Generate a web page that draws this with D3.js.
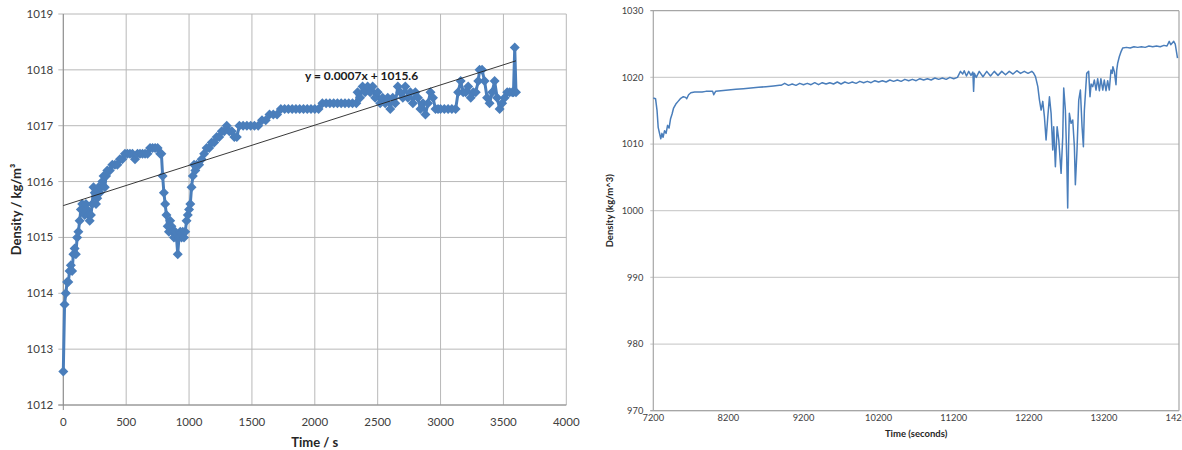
<!DOCTYPE html>
<html>
<head>
<meta charset="utf-8">
<script src="https://cdn.jsdelivr.net/npm/d3@7"></script>
<style>
  body { margin: 0; background: #fff; }
  svg { display: block; font-family: Lato, "Open Sans", sans-serif; }
</style>
</head>
<body>
<script>
// ---- left chart data (time s, density kg/m3) ----
var leftTime = [0,10,20,30,40,50,60,70,80,90,100,110,120,130,140,150,160,170,180,190,200,210,220,230,240,250,260,270,280,290,300,310,320,330,340,350,370,390,410,430,450,470,490,510,530,550,570,590,610,630,650,670,690,710,730,750,770,780,790,800,810,820,830,840,850,860,870,880,890,900,910,920,930,940,950,960,970,980,990,1000,1010,1020,1030,1040,1050,1060,1080,1100,1120,1140,1160,1180,1200,1220,1240,1260,1280,1300,1320,1340,1360,1380,
  1400,1430,1460,1490,1520,1550,1580,1610,1640,1670,1700,1730,1760,1790,1820,1850,1880,1910,1940,1970,2000,2030,2060,2090,2120,2150,2180,2210,2240,2270,2300,2330,
  2340,2360,2380,2400,2420,2440,2460,2480,2500,2520,2540,2560,2580,2600,2620,2640,2660,2680,2700,2720,2740,2760,2780,2800,2820,2840,2860,2880,2900,2920,2940,2960,2980,3000,3030,3060,3090,3120,3140,3160,3180,3200,3220,3240,3260,3280,3300,3310,3330,3350,3370,3390,3410,3430,3450,3470,3490,3510,3530,3550,3570,3580,3590,3600];
var leftDensity = [1012.6,1013.8,1014.0,1014.2,1014.2,1014.4,1014.5,1014.4,1014.7,1014.8,1014.7,1015.0,1015.1,1015.3,1015.5,1015.6,1015.5,1015.4,1015.6,1015.5,1015.4,1015.3,1015.4,1015.6,1015.9,1015.8,1015.6,1015.7,1015.9,1015.8,1015.9,1016.0,1016.1,1015.9,1016.1,1016.2,1016.2,1016.3,1016.3,1016.3,1016.4,1016.4,1016.5,1016.5,1016.5,1016.5,1016.4,1016.5,1016.5,1016.5,1016.5,1016.5,1016.6,1016.6,1016.6,1016.6,1016.5,1016.5,1016.1,1015.8,1015.6,1015.4,1015.2,1015.1,1015.3,1015.2,1015.1,1015.0,1015.1,1015.0,1014.7,1015.0,1015.1,1015.0,1015.1,1015.0,1015.1,1015.3,1015.4,1015.5,1015.6,1015.9,1016.1,1016.3,1016.2,1016.3,1016.3,1016.4,1016.5,1016.6,1016.6,1016.7,1016.7,1016.8,1016.8,1016.9,1016.9,1017.0,1016.9,1016.9,1016.8,1016.8,
  1017.0,1017.0,1017.0,1017.0,1017.0,1017.0,1017.1,1017.1,1017.2,1017.2,1017.2,1017.3,1017.3,1017.3,1017.3,1017.3,1017.3,1017.3,1017.3,1017.3,1017.3,1017.3,1017.4,1017.4,1017.4,1017.4,1017.4,1017.4,1017.4,1017.4,1017.4,1017.4,
  1017.6,1017.5,1017.7,1017.6,1017.7,1017.6,1017.7,1017.5,1017.6,1017.4,1017.5,1017.4,1017.5,1017.3,1017.5,1017.4,1017.7,1017.6,1017.5,1017.7,1017.5,1017.6,1017.4,1017.6,1017.5,1017.3,1017.4,1017.2,1017.4,1017.6,1017.5,1017.3,1017.3,1017.3,1017.3,1017.3,1017.3,1017.3,1017.6,1017.8,1017.6,1017.6,1017.7,1017.5,1017.6,1017.6,1017.8,1018.0,1018.0,1017.8,1017.5,1017.4,1017.6,1017.8,1017.5,1017.3,1017.4,1017.5,1017.6,1017.6,1017.6,1017.6,1018.4,1017.6];
var trendSlope = 0.00072;
var trendIntercept = 1015.57;
var trendRange = [0, 3600];
var trendLabel = "y = 0.0007x + 1015.6";
var leftXTicks = [0,500,1000,1500,2000,2500,3000,3500,4000];
var leftYTicks = [1012,1013,1014,1015,1016,1017,1018,1019];

// ---- right chart data (time s, density kg/m^3) ----
var rightTime = [7200,7230,7250,7265,7285,7300,7315,7330,7350,7370,7390,7410,7430,7450,7470,7500,7530,7560,7600,7630,7645,7670,7700,7750,7800,7850,7900,7950,7990,8005,8030,8100,8200,8300,8400,8500,8600,8700,8800,8880,
  8900,8950,9000,9050,9100,9150,9200,9250,9300,9350,9400,9450,9500,9550,9600,9650,9700,9750,9800,9850,9900,9950,10000,10050,10100,10150,10200,10250,10300,10350,10400,10450,10500,10550,10600,10650,10700,10750,10800,10850,10900,10950,11000,11050,11100,11150,11200,11250,
  11290,11320,11340,11370,11400,11430,11455,11465,11475,11500,11540,11590,11640,11690,11740,11790,11840,11890,11940,11990,12040,12090,12140,12190,12240,12260,
  12289,12320,12342,12364,12386,12408,12430,12453,12475,12497,12519,12532,12554,12577,12599,12630,12652,12665,12687,12705,12718,12730,12740,12763,12785,12807,12820,12842,12865,12887,12909,12927,12940,12971,12997,13015,13030,13051,13073,13095,13117,13140,13160,13185,13205,13228,13250,13272,13294,13310,13320,13340,13361,13370,13383,13405,13430,13450,13500,13550,13600,13650,13700,13750,13800,13850,13900,13950,14000,14040,14070,14090,14130,14150,14180];
var rightDensity = [1016.9,1016.8,1015.0,1012.5,1011.5,1010.8,1011.6,1011.0,1012.0,1011.6,1012.8,1012.4,1013.8,1014.5,1015.4,1016.0,1016.4,1016.8,1017.1,1017.0,1016.8,1017.4,1017.7,1017.8,1017.8,1017.8,1017.9,1017.9,1017.9,1017.4,1017.9,1018.0,1018.1,1018.2,1018.3,1018.4,1018.5,1018.6,1018.7,1018.8,
  1018.8,1019.1,1018.8,1019.0,1018.8,1019.1,1018.9,1019.1,1018.9,1019.2,1018.9,1019.2,1019.0,1019.2,1019.0,1019.3,1019.0,1019.3,1019.1,1019.3,1019.1,1019.4,1019.2,1019.4,1019.2,1019.5,1019.3,1019.5,1019.3,1019.6,1019.4,1019.6,1019.4,1019.7,1019.5,1019.7,1019.5,1019.8,1019.6,1019.8,1019.6,1019.9,1019.7,1019.9,1019.7,1020.0,1019.8,1020.0,
  1020.9,1020.5,1021.0,1020.2,1020.9,1020.3,1020.8,1017.9,1020.6,1020.0,1020.9,1020.1,1020.9,1020.2,1020.9,1020.3,1020.9,1020.4,1020.9,1020.5,1021.0,1020.6,1020.9,1020.6,1020.9,1020.7,
  1020.1,1018.6,1016.6,1015.1,1016.4,1014.1,1010.6,1014.1,1017.1,1014.6,1009.1,1012.6,1006.6,1012.6,1010.6,1005.6,1011.1,1018.4,1015.1,1008.0,1000.4,1010.0,1014.6,1013.1,1013.6,1009.6,1003.9,1009.1,1016.6,1018.1,1012.6,1009.6,1015.1,1020.6,1020.9,1017.1,1019.0,1018.6,1019.6,1018.1,1019.8,1018.0,1019.8,1018.1,1019.6,1018.0,1019.5,1018.1,1021.1,1020.6,1021.6,1020.8,1018.9,1021.0,1022.1,1023.1,1023.9,1024.4,1024.5,1024.4,1024.6,1024.5,1024.6,1024.5,1024.7,1024.6,1024.7,1024.6,1024.8,1024.7,1025.4,1024.9,1025.4,1025.0,1022.9];
var rightXTicks = [7200,8200,9200,10200,11200,12200,13200,14200];
var rightYTicks = [970,980,990,1000,1010,1020,1030];

var width = 1182;
var height = 450;
var blue = "#4a7ebb";

var svg = d3.select("body").append("svg")
    .attr("width", width)
    .attr("height", height);

svg.append("rect").attr("width", width).attr("height", height).attr("fill", "#fff");

// ================= left chart =================
var lx = d3.scaleLinear().domain([0, 4000]).range([63.3, 566.3]);
var ly = d3.scaleLinear().domain([1012, 1019]).range([405, 14]);

var left = svg.append("g");

left.append("g")
    .selectAll("line.vgrid")
    .data(leftXTicks)
    .enter().append("line")
    .attr("x1", function(d) { return lx(d); })
    .attr("x2", function(d) { return lx(d); })
    .attr("y1", ly(1019))
    .attr("y2", ly(1012))
    .attr("stroke", "#b8b8b8")
    .attr("stroke-width", 1);

left.append("g")
    .selectAll("line.hgrid")
    .data(leftYTicks)
    .enter().append("line")
    .attr("x1", lx(0) - 5)
    .attr("x2", lx(4000))
    .attr("y1", function(d) { return ly(d); })
    .attr("y2", function(d) { return ly(d); })
    .attr("stroke", "#b8b8b8")
    .attr("stroke-width", 1);

// axis lines
left.append("line")
    .attr("x1", lx(0)).attr("x2", lx(0))
    .attr("y1", ly(1019)).attr("y2", ly(1012) + 5)
    .attr("stroke", "#8c8c8c");
left.append("line")
    .attr("x1", lx(0) - 5).attr("x2", lx(4000))
    .attr("y1", ly(1012)).attr("y2", ly(1012))
    .attr("stroke", "#8c8c8c");

left.append("g")
    .selectAll("text")
    .data(leftYTicks)
    .enter().append("text")
    .attr("x", lx(0) - 10)
    .attr("y", function(d) { return ly(d) + 4; })
    .attr("text-anchor", "end")
    .style("font-size", "11.5px")
    .style("fill", "#404040")
    .text(function(d) { return d; });

left.append("g")
    .selectAll("text")
    .data(leftXTicks)
    .enter().append("text")
    .attr("x", function(d) { return lx(d); })
    .attr("y", 426)
    .attr("text-anchor", "middle")
    .style("font-size", "11.5px")
    .style("fill", "#404040")
    .text(function(d) { return d; });

left.append("text")
    .attr("x", (lx(0) + lx(4000)) / 2)
    .attr("y", 447)
    .attr("text-anchor", "middle")
    .style("font-size", "13px")
    .style("font-weight", "bold")
    .style("fill", "#262626")
    .text("Time / s");

left.append("text")
    .attr("transform", "translate(21," + ((ly(1012) + ly(1019)) / 2) + ") rotate(-90)")
    .attr("text-anchor", "middle")
    .style("font-size", "13px")
    .style("font-weight", "bold")
    .style("fill", "#262626")
    .text("Density / kg/m³");

var leftPoints = leftTime.map(function(t, i) { return {t: t, v: leftDensity[i]}; });

left.append("path")
    .datum(leftPoints)
    .attr("fill", "none")
    .attr("stroke", blue)
    .attr("stroke-width", 3)
    .attr("stroke-linejoin", "round")
    .attr("d", d3.line()
        .x(function(d) { return lx(d.t); })
        .y(function(d) { return ly(d.v); }));

left.append("g")
    .selectAll("path")
    .data(leftPoints)
    .enter().append("path")
    .attr("transform", function(d) { return "translate(" + lx(d.t) + "," + ly(d.v) + ")"; })
    .attr("d", "M0,-5L5,0L0,5L-5,0Z")
    .attr("fill", blue);

// trend line
left.append("line")
    .attr("x1", lx(trendRange[0]))
    .attr("y1", ly(trendIntercept + trendSlope * trendRange[0]))
    .attr("x2", lx(trendRange[1]))
    .attr("y2", ly(trendIntercept + trendSlope * trendRange[1]))
    .attr("stroke", "#222")
    .attr("stroke-width", 0.9);

left.append("text")
    .attr("x", 305)
    .attr("y", 80)
    .style("font-size", "12px")
    .style("font-weight", "bold")
    .style("fill", "#1a1a1a")
    .text(trendLabel);

// ================= right chart =================
var rx = d3.scaleLinear().domain([7200, 14200]).range([653.3, 1179]);
var ry = d3.scaleLinear().domain([970, 1030]).range([410.7, 10.7]);

var right = svg.append("g");

right.append("g")
    .selectAll("line")
    .data(rightYTicks)
    .enter().append("line")
    .attr("x1", rx(7200) - 3)
    .attr("x2", rx(14200))
    .attr("y1", function(d) { return ry(d); })
    .attr("y2", function(d) { return ry(d); })
    .attr("stroke", function(d) { return d === 1030 ? "#a6a6a6" : "#cfcfcf"; })
    .attr("stroke-width", 1.2);

right.append("line")
    .attr("x1", rx(14200)).attr("x2", rx(14200))
    .attr("y1", ry(1030)).attr("y2", ry(970))
    .attr("stroke", "#a6a6a6").attr("stroke-width", 1.2);
right.append("line")
    .attr("x1", rx(7200)).attr("x2", rx(7200))
    .attr("y1", ry(1030)).attr("y2", ry(970))
    .attr("stroke", "#a6a6a6").attr("stroke-width", 1.2);
right.append("line")
    .attr("x1", rx(7200) - 3).attr("x2", rx(14200))
    .attr("y1", ry(970)).attr("y2", ry(970))
    .attr("stroke", "#a6a6a6").attr("stroke-width", 1.2);

right.append("g")
    .selectAll("text")
    .data(rightYTicks)
    .enter().append("text")
    .attr("x", rx(7200) - 10)
    .attr("y", function(d) { return ry(d) + 3.3; })
    .attr("text-anchor", "end")
    .style("font-size", "9.3px")
    .style("fill", "#404040")
    .text(function(d) { return d; });

right.append("g")
    .selectAll("text")
    .data(rightXTicks)
    .enter().append("text")
    .attr("x", function(d) { return rx(d); })
    .attr("y", 421)
    .attr("text-anchor", "middle")
    .style("font-size", "9.3px")
    .style("fill", "#404040")
    .text(function(d) { return d; });

right.append("text")
    .attr("x", (rx(7200) + rx(14200)) / 2)
    .attr("y", 437)
    .attr("text-anchor", "middle")
    .style("font-size", "9.5px")
    .style("font-weight", "bold")
    .style("fill", "#262626")
    .text("Time (seconds)");

right.append("text")
    .attr("transform", "translate(613," + ((ry(970) + ry(1030)) / 2) + ") rotate(-90)")
    .attr("text-anchor", "middle")
    .style("font-size", "9.5px")
    .style("font-weight", "bold")
    .style("fill", "#262626")
    .text("Density (kg/m^3)");

var rightPoints = rightTime.map(function(t, i) { return {t: t, v: rightDensity[i]}; });

right.append("path")
    .datum(rightPoints)
    .attr("fill", "none")
    .attr("stroke", blue)
    .attr("stroke-width", 1.5)
    .attr("stroke-linejoin", "round")
    .attr("d", d3.line()
        .x(function(d) { return rx(d.t); })
        .y(function(d) { return ry(d.v); }));
</script>
</body>
</html>
